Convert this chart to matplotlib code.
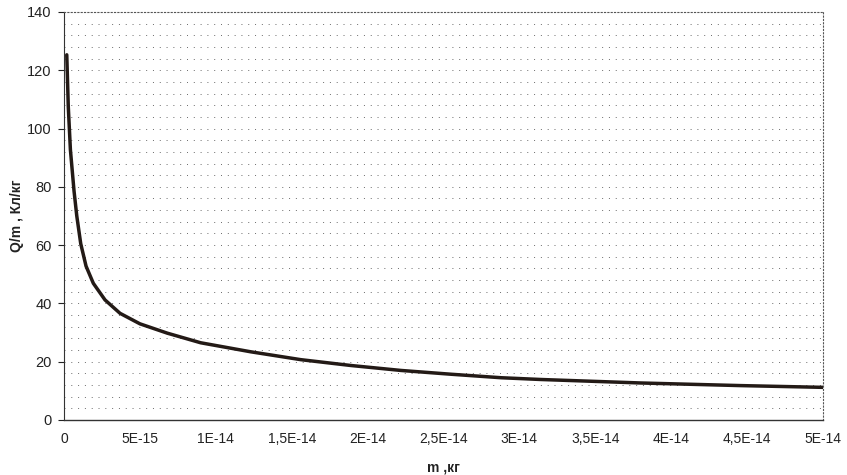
import matplotlib
matplotlib.use("Agg")
import matplotlib.pyplot as plt
import numpy as np

# mass values, in units of 1e-15 kg
mass_e15 = [0.18, 0.28, 0.42, 0.66, 0.84, 1.10, 1.45, 1.93, 2.70, 3.69, 5.0,
            6.8, 9.0, 12.3, 15.6, 18.9, 22.2, 25.5, 28.8, 31.4, 38.0, 44.6, 50.0]
# specific charge Q/m
q_over_m = [125.3, 107.5, 92.7, 78.5, 70.0, 60.5, 52.8, 46.9, 41.2, 36.6, 33.0,
            29.8, 26.5, 23.4, 20.7, 18.7, 17.0, 15.7, 14.5, 13.9, 12.7, 11.8, 11.2]

x_ticks_e15 = [0, 5, 10, 15, 20, 25, 30, 35, 40, 45, 50]
x_tick_labels = ["0", "5E-15", "1E-14", "1,5E-14", "2E-14", "2,5E-14",
                 "3E-14", "3,5E-14", "4E-14", "4,5E-14", "5E-14"]
y_ticks = [0, 20, 40, 60, 80, 100, 120, 140]

plt.rcParams['font.family'] = ['Liberation Sans', 'DejaVu Sans']

fig = plt.figure(figsize=(8.47, 4.75), dpi=100)
ax = fig.add_axes([0.0756, 0.1158, 0.896, 0.859])

m = np.array(mass_e15) * 1e-15
ax.plot(m, q_over_m, color='#231a16', linewidth=2.5,
        solid_capstyle='round', solid_joinstyle='round')

ax.set_xlim(0, 5e-14)
ax.set_ylim(0, 140)

# faint dotted horizontal grid every 4 units
for yv in np.arange(4, 140, 4):
    ax.axhline(yv, color='#6a6a6a', linewidth=0.7, linestyle=(0, (1, 6)), zorder=0)

ax.set_xticks(np.array(x_ticks_e15) * 1e-15)
ax.set_xticklabels(x_tick_labels)
ax.set_yticks(y_ticks)
ax.tick_params(axis='x', length=0, pad=9, labelsize=10, colors='#222222')
ax.tick_params(axis='y', length=4, width=0.8, pad=5, labelsize=10.5, colors='#222222')

for side in ['top', 'right']:
    ax.spines[side].set_linestyle((0, (1, 2)))
    ax.spines[side].set_color('#555555')
    ax.spines[side].set_linewidth(0.8)
ax.spines['left'].set_linestyle((0, (2, 1)))
ax.spines['left'].set_color('#333333')
ax.spines['bottom'].set_color('#333333')
ax.spines['bottom'].set_linewidth(1.0)

ax.set_xlabel("m ,кг", fontsize=10, fontweight='bold', color='#222222', labelpad=10)
ax.set_ylabel("Q/m , Кл/кг", fontsize=10, fontweight='bold', color='#222222', labelpad=2)

fig.savefig("out.png", dpi=100)
